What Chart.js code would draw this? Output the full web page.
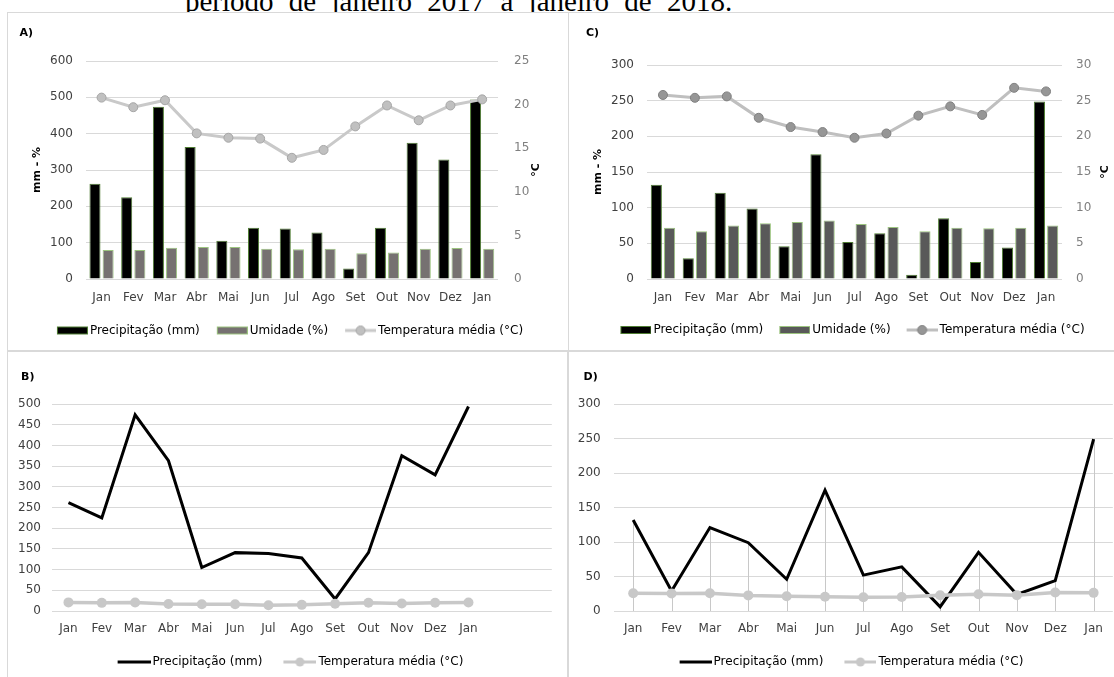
<!DOCTYPE html>
<html>
<head>
<meta charset="utf-8">
<script src="https://cdn.jsdelivr.net/npm/chart.js@4.4.1/dist/chart.umd.min.js"></script>
<style>
  html, body { margin: 0; padding: 0; background: #fff; width: 1114px; height: 677px; overflow: hidden; position: relative; }
  #heading { position: absolute; left: 185px; top: -13.4px; font: 29px/29px "Liberation Serif", "Times New Roman", serif; word-spacing: 8px; white-space: nowrap; color: #000; }
  canvas { position: absolute; background: #fff; }
  .frame { position: absolute; border: 1px solid #d9d9d9; box-sizing: border-box; pointer-events: none; }
</style>
</head>
<body>
<div id="heading">período de janeiro 2017 a janeiro de 2018.</div>

<canvas id="chartA" width="566" height="337" style="left:7px;top:13px;width:566px;height:337px"></canvas>
<canvas id="chartC" width="567" height="337" style="left:569px;top:13px;width:567px;height:337px"></canvas>
<canvas id="chartB" width="565" height="326" style="left:8px;top:352px;width:565px;height:326px"></canvas>
<canvas id="chartD" width="565" height="326" style="left:569px;top:352px;width:565px;height:326px"></canvas>

<div class="frame" style="left:7px;top:12px;width:562px;height:339px"></div>
<div class="frame" style="left:568px;top:12px;width:560px;height:339px"></div>
<div class="frame" style="left:7px;top:351px;width:561px;height:340px"></div>
<div class="frame" style="left:568px;top:351px;width:560px;height:340px"></div>

<script>
// Months from January 2017 to January 2018
const months = ['Jan', 'Fev', 'Mar', 'Abr', 'Mai', 'Jun', 'Jul', 'Ago', 'Set', 'Out', 'Nov', 'Dez', 'Jan'];

// Station 1 (panels A and B)
const rain1 = [262, 225, 474, 363, 105, 141, 139, 128, 29, 141, 375, 329, 494];
const humidity1 = [80, 80, 86, 88, 88, 83, 82, 83, 71, 73, 83, 85, 83];
const temp1 = [20.8, 19.7, 20.5, 16.7, 16.2, 16.1, 13.9, 14.8, 17.5, 19.9, 18.2, 19.9, 20.6];

// Station 2 (panels C and D)
const rain2 = [132, 29, 121, 99, 46, 175, 52, 64, 6, 85, 24, 44, 249];
const humidity2 = [72, 67, 75, 78, 80, 82, 77, 73, 67, 72, 71, 72, 75];
const temp2 = [25.8, 25.4, 25.6, 22.6, 21.3, 20.6, 19.8, 20.4, 22.9, 24.2, 23.0, 26.8, 26.3];

// Series names and axis titles
const seriesNames = ['Precipitação (mm)', 'Umidade (%)', 'Temperatura média (°C)'];
const leftTitle = 'mm - %';
const rightTitle = '°C';

// Axis ranges: [min, max, step]
const axisA = [0, 600, 100];
const axisA2 = [0, 25, 5];
const axisC = [0, 300, 50];
const axisC2 = [0, 30, 5];
const axisB = [0, 500, 50];
const axisD = [0, 300, 50];

const FONT = 'DejaVu Sans';
Chart.defaults.font.family = FONT;
Chart.defaults.font.size = 12;
Chart.defaults.color = '#404040';

const GRID = '#d9d9d9';
const TICK_LEFT = '#404040';
const TICK_RIGHT = '#7f7f7f';

// Panel letter and the rotated right-axis title (read bottom to top)
const panelText = {
  id: 'panelText',
  afterDraw(chart, args, o) {
    const ctx = chart.ctx;
    ctx.save();
    ctx.font = 'bold 11px "' + FONT + '"';
    ctx.fillStyle = '#000';
    ctx.textBaseline = 'middle';
    ctx.textAlign = 'left';
    ctx.fillText(o.text, o.x, o.y);
    if (o.axisTitle) {
      const s = chart.scales.y1;
      ctx.translate(o.axisX, (s.top + s.bottom) / 2);
      ctx.rotate(-Math.PI / 2);
      ctx.textAlign = 'center';
      ctx.fillText(o.axisTitle, 0, 0);
    }
    ctx.restore();
  }
};

// Vertical drop lines from the highest point of each month down to zero
const dropLines = {
  id: 'dropLines',
  beforeDatasetsDraw(chart) {
    const { ctx, scales: { x, y } } = chart;
    const sets = chart.data.datasets;
    const n = sets[0].data.length;
    ctx.save();
    ctx.strokeStyle = '#c8c8c8';
    ctx.lineWidth = 1;
    for (let i = 0; i < n; i++) {
      const top = Math.max(...sets.map(d => d.data[i]));
      const px = Math.round(x.getPixelForValue(i)) + 0.5;
      ctx.beginPath();
      ctx.moveTo(px, y.getPixelForValue(top));
      ctx.lineTo(px, y.getPixelForValue(0));
      ctx.stroke();
    }
    ctx.restore();
  }
};

// Legend symbol: a small canvas in which the symbol spans w pixels and
// the label text starts right after it (symbol offset 4px inside the image).
function legendSymbol(kind, w, o) {
  const c = document.createElement('canvas');
  c.width = w + 4;
  c.height = 12;
  const g = c.getContext('2d');
  if (kind === 'box') {
    g.fillStyle = o.stroke;
    g.fillRect(4, 2, w, 8);
    g.fillStyle = o.fill;
    g.fillRect(5, 3, w - 2, 6);
  } else {
    g.strokeStyle = o.line;
    g.lineWidth = o.width || 3;
    g.beginPath();
    g.moveTo(4, 6);
    g.lineTo(4 + w, 6);
    g.stroke();
    if (o.dot) {
      g.beginPath();
      g.arc(4 + w / 2, 6, 4.5, 0, Math.PI * 2);
      g.fillStyle = o.dot;
      g.fill();
      if (o.dotBorder) { g.lineWidth = 1; g.strokeStyle = o.dotBorder; g.stroke(); }
    }
  }
  return c;
}

function legendOptions(symbols, symbolWidth, gap) {
  return {
    position: 'bottom',
    align: 'center',
    labels: {
      usePointStyle: true,
      pointStyleWidth: symbolWidth - 4,
      padding: gap,
      color: '#000',
      font: { family: FONT, size: 12 },
      generateLabels(chart) {
        const items = Chart.defaults.plugins.legend.labels.generateLabels(chart);
        items.forEach(it => { it.pointStyle = symbols[it.datasetIndex]; it.fontColor = '#000'; });
        return items.sort((a, b) => a.datasetIndex - b.datasetIndex);
      }
    }
  };
}

function xScale(geom) {
  return {
    type: 'category', offset: true,
    grid: { display: false, drawTicks: false }, border: { display: false },
    ticks: { padding: geom.xPad, color: TICK_LEFT, autoSkip: false, maxRotation: 0, font: { size: 12 } },
    afterFit(s) { s.height = geom.xH; }
  };
}

function yScale(range, geom, title, titlePad) {
  return {
    position: 'left', min: range[0], max: range[1],
    grid: { color: GRID, lineWidth: 1, drawTicks: false },
    border: { display: false },
    ticks: { stepSize: range[2], padding: geom.yPad, color: TICK_LEFT, font: { size: 12 } },
    title: title ? { display: true, text: title, color: '#000', font: { size: 11, weight: 'bold' }, padding: { top: titlePad, bottom: 0 } } : { display: false },
    afterFit(s) { s.width = geom.yW; }
  };
}

function y2Scale(range, geom) {
  return {
    position: 'right', min: range[0], max: range[1],
    grid: { display: false, drawTicks: false },
    border: { display: false },
    ticks: { stepSize: range[2], padding: geom.y2Pad, color: TICK_RIGHT, font: { size: 12 } },
    title: { display: false },
    afterFit(s) { s.width = geom.y2W; }
  };
}

// Empty right-hand margin kept as an axis so the legend stays centred on the panel
function spacerScale(width) {
  return {
    type: 'linear', axis: 'y', position: 'right', display: true,
    grid: { display: false, drawTicks: false }, border: { display: false },
    ticks: { display: false },
    afterFit(s) { s.width = width; }
  };
}

function comboChart(id, rain, hum, temp, range, range2, geom, style, label) {
  const symbols = [
    legendSymbol('box', geom.sym, { fill: '#000', stroke: style.rainEdge }),
    legendSymbol('box', geom.sym, { fill: style.humFill, stroke: style.humEdge }),
    legendSymbol('line', geom.sym, { line: style.tempLine, dot: style.tempDot, dotBorder: style.tempDotEdge })
  ];
  return new Chart(document.getElementById(id), {
    type: 'bar',
    data: {
      labels: months,
      datasets: [
        { label: seriesNames[0], data: rain, yAxisID: 'y', order: 1,
          backgroundColor: '#000', borderColor: style.rainEdge, borderWidth: 1,
          categoryPercentage: 0.83, barPercentage: 0.84 },
        { label: seriesNames[1], data: hum, yAxisID: 'y', order: 1,
          backgroundColor: style.humFill, borderColor: style.humEdge, borderWidth: 1,
          categoryPercentage: 0.83, barPercentage: 0.84 },
        { type: 'line', label: seriesNames[2], data: temp, yAxisID: 'y1', order: 0,
          borderColor: style.tempLine, borderWidth: 3,
          pointRadius: 4.5, pointBackgroundColor: style.tempDot,
          pointBorderColor: style.tempDotEdge, pointBorderWidth: 1 }
      ]
    },
    options: {
      responsive: false, animation: false, devicePixelRatio: 1, events: [],
      layout: { padding: geom.pad },
      plugins: {
        title: { display: false },
        legend: legendOptions(symbols, geom.sym, geom.gap),
        tooltip: { enabled: false },
        panelText: { text: label, x: geom.lx, y: geom.ly, axisTitle: rightTitle, axisX: geom.rtx }
      },
      scales: {
        x: xScale(geom),
        y: yScale(range, geom, leftTitle, geom.yTitlePad),
        y1: y2Scale(range2, geom)
      }
    },
    plugins: [panelText]
  });
}

function lineChart(id, xLabels, rain, temp, range, geom, label, extraPlugins) {
  const symbols = [
    legendSymbol('line', geom.sym, { line: '#000', width: 3 }),
    legendSymbol('line', geom.sym, { line: '#c8c8c8', dot: '#c8c8c8' })
  ];
  return new Chart(document.getElementById(id), {
    type: 'line',
    data: {
      labels: xLabels,
      datasets: [
        { label: seriesNames[0], data: rain, order: 1,
          borderColor: '#000', borderWidth: 3, pointRadius: 0, tension: 0 },
        { label: seriesNames[2], data: temp, order: 0,
          borderColor: '#c8c8c8', borderWidth: 3.5,
          pointRadius: 5, pointBackgroundColor: '#c8c8c8', pointBorderColor: '#c8c8c8', pointBorderWidth: 0 }
      ]
    },
    options: {
      responsive: false, animation: false, devicePixelRatio: 1, events: [],
      layout: { padding: geom.pad },
      plugins: {
        title: { display: false },
        legend: legendOptions(symbols, geom.sym, geom.gap),
        tooltip: { enabled: false },
        panelText: { text: label, x: geom.lx, y: geom.ly }
      },
      scales: {
        x: xScale(geom),
        y: yScale(range, geom, null, 0),
        gap: spacerScale(geom.gapW)
      }
    },
    plugins: [panelText].concat(extraPlugins || [])
  });
}

// A) bars + temperature, station 1
comboChart('chartA', rain1, humidity1, temp1, axisA, axisA2, {
  pad: { left: 0, right: 0, top: 48, bottom: 3.5 },
  lx: 12.6, ly: 20,
  yW: 78.7, yPad: 12.7, yTitlePad: 23.9,
  y2W: 75, y2Pad: 16, rtx: 529,
  xH: 28.5, xPad: 11.5,
  sym: 31, gap: 17
}, { rainEdge: '#4f7d33', humFill: '#767171', humEdge: '#9cc47f',
     tempLine: '#c9c9c9', tempDot: '#c0c0c0', tempDotEdge: '#a6a6a6' }, 'A)');

// C) bars + temperature, station 2
comboChart('chartC', rain2, humidity2, temp2, axisC, axisC2, {
  pad: { left: 0, right: 0, top: 52, bottom: 4 },
  lx: 17, ly: 20,
  yW: 78, yPad: 13, yTitlePad: 22.4,
  y2W: 74, y2Pad: 14, rtx: 536,
  xH: 29, xPad: 11.5,
  sym: 31, gap: 16
}, { rainEdge: '#4f7d33', humFill: '#595959', humEdge: '#9cc47f',
     tempLine: '#bfbfbf', tempDot: '#969696', tempDotEdge: '#808080' }, 'C)');

// B) precipitation and temperature lines, station 1 (axis leaves two empty slots)
lineChart('chartB', months.concat(['', '']), rain1, temp1, axisB, {
  pad: { left: 0, right: 0, top: 52, bottom: 0 },
  lx: 13, ly: 25,
  yW: 43.8, yPad: 10.8, gapW: 21.2,
  xH: 24, xPad: 11.1,
  sym: 33, gap: 21
}, 'B)');

// D) precipitation and temperature lines with drop lines, station 2
lineChart('chartD', months, rain2, temp2, axisD, {
  pad: { left: 0, right: 0, top: 52, bottom: 0 },
  lx: 14.6, ly: 25,
  yW: 45, yPad: 13.3, gapW: 21.2,
  xH: 24, xPad: 10.8,
  sym: 32, gap: 21
}, 'D)', [dropLines]);
</script>
</body>
</html>
